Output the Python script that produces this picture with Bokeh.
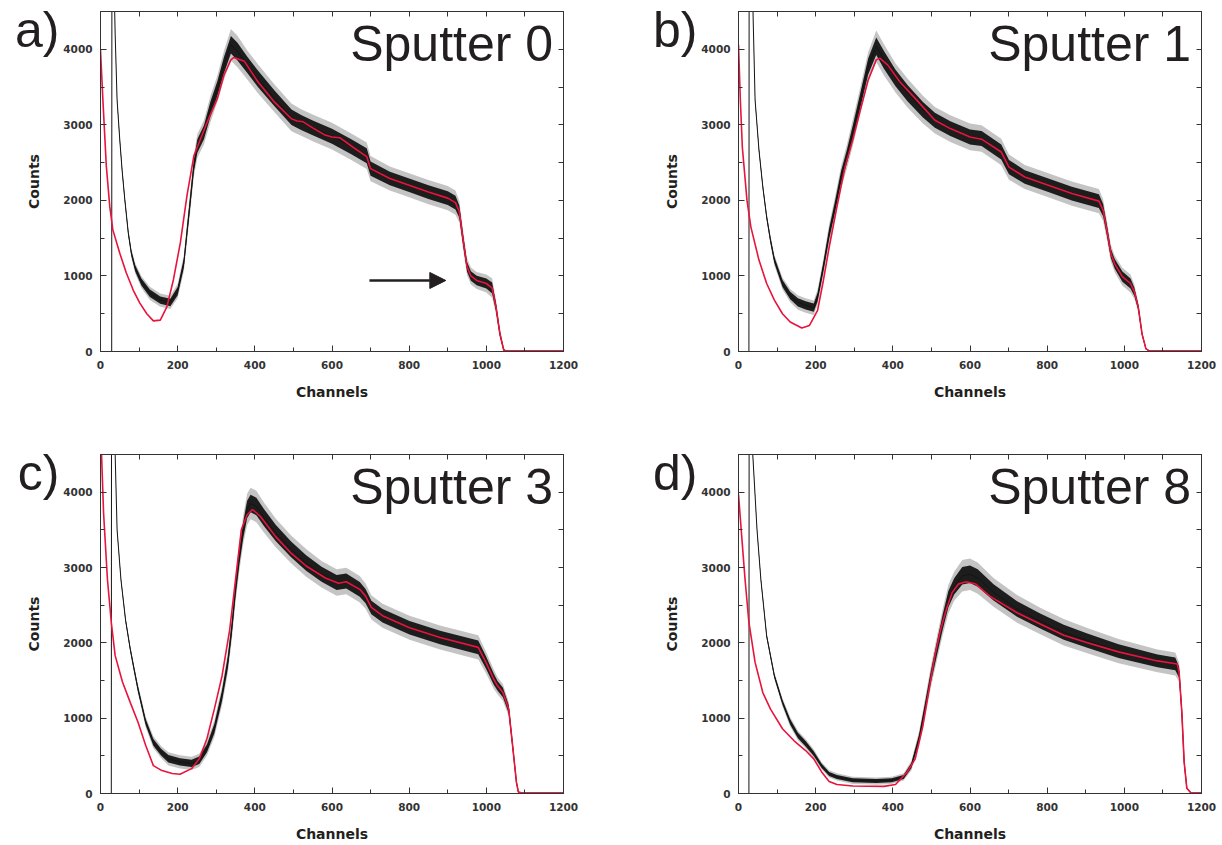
import numpy as np
from bokeh.plotting import figure
from bokeh.models import LinearAxis, Range1d, Label, Arrow, NormalHead, FixedTicker
from bokeh.layouts import row, column
from bokeh.embed import file_html
from bokeh.resources import INLINE

# ---------------- data ----------------
panel_letters = ["a)", "b)", "c)", "d)"]
panel_titles = ["Sputter 0", "Sputter 1", "Sputter 3", "Sputter 8"]
x_label = "Channels"
y_label = "Counts"
x_ticks = [0, 200, 400, 600, 800, 1000, 1200]
x_minor = [100, 300, 500, 700, 900, 1100]
y_ticks = [0, 1000, 2000, 3000, 4000]
y_minor = [500, 1500, 2500, 3500, 4500]

# panel a (Sputter 0)
a_black_ch = [0, 29, 30, 31, 34, 38, 43, 50, 56, 63, 72, 80, 90, 106, 128, 155, 181, 200,
              216, 224, 233, 242, 251, 268, 285, 303, 320, 338, 355, 381, 408, 451, 495,
              520, 550, 600, 650, 690, 700, 750, 800, 850, 900, 920,
              930, 940, 950, 960, 975, 1000, 1015, 1025, 1035, 1045, 1052, 1100, 1200]
a_black_counts = [0, 0, 9000, 9000, 5200, 4200, 3330, 2800, 2400, 2010, 1570, 1300, 1100, 920, 770, 680, 650, 800,
                  1170, 1570, 2010, 2460, 2720, 2900, 3210, 3480, 3790, 4060, 3970, 3790, 3610, 3350, 3100,
                  3030, 2960, 2850, 2710, 2590, 2420, 2290, 2200, 2110, 2030, 1970,
                  1850, 1470, 1120, 1000, 940, 900, 840, 590, 240, 20, 5, 5, 5]
a_black_noise = [0, 0, 0, 0, 10, 15, 20, 25, 30, 30, 35, 40, 45, 50, 55, 55, 55, 60,
                 70, 80, 90, 90, 100, 100, 110, 110, 120, 130, 130, 120, 120, 115, 115,
                 110, 110, 110, 110, 110, 105, 100, 100, 100, 100, 100,
                 90, 80, 70, 70, 70, 75, 80, 60, 40, 15, 5, 5, 5]
a_fit_ch = [0, 6, 15, 24, 32, 50, 67, 85, 102, 120, 137, 155, 172, 189, 207, 224, 242, 259, 277, 303,
            320, 338, 345, 373, 408, 451, 495, 510, 525, 550, 580, 600, 620, 650, 690, 700, 750, 800, 850, 900,
            920, 930, 940, 950, 960, 975, 1000, 1015, 1025, 1035, 1045, 1052, 1200]
a_fit_counts = [3990, 3350, 2460, 1920, 1610, 1300, 1040, 810, 640, 500, 405, 415, 590, 950, 1440, 2060, 2590, 2810, 3040, 3350,
                3660, 3860, 3890, 3840, 3570, 3300, 3080, 3050, 3040, 2960, 2870, 2840, 2830, 2720, 2580, 2420, 2290, 2200, 2110, 2030,
                1970, 1850, 1470, 1120, 1000, 940, 900, 840, 590, 240, 20, 5, 5]
arrow_ch = [697, 895]
arrow_counts = 940

# panel b (Sputter 1)
b_black_ch = [0, 27, 28, 30, 34, 38, 43, 53, 63, 73, 83, 93, 114, 134, 154, 174, 195, 205,
              220, 235, 250, 266, 281, 296, 316, 336, 357, 377, 407, 438, 478, 509, 549, 600, 630, 681, 701, 742, 803, 864, 934,
              945, 955, 965, 975, 995, 1016, 1026, 1036, 1046, 1056, 1066, 1200]
b_black_counts = [0, 0, 9000, 9000, 5500, 4400, 3330, 2670, 2180, 1780, 1470, 1210, 900, 740, 650, 610, 580, 720,
                  1120, 1560, 1910, 2310, 2580, 2890, 3330, 3770, 4040, 3860, 3620, 3420, 3200, 3060, 2950, 2840, 2820, 2640, 2440, 2310, 2200, 2090, 1990,
                  1870, 1600, 1300, 1160, 990, 900, 790, 590, 230, 35, 5, 5]
b_black_noise = [0, 0, 0, 0, 10, 15, 20, 25, 30, 35, 40, 45, 50, 55, 60, 60, 60, 65,
                 70, 80, 85, 90, 100, 110, 110, 120, 130, 130, 120, 120, 115, 110, 110, 110, 110, 110, 105, 100, 100, 100, 100,
                 90, 80, 70, 70, 75, 75, 60, 40, 15, 5, 5, 5]
b_fit_ch = [0, 5, 10, 22, 32, 53, 73, 93, 114, 134, 164, 184, 205, 220, 235, 255, 276, 296, 316, 336,
            357, 367, 387, 418, 458, 509, 549, 600, 630, 681, 701, 742, 803, 864, 934,
            945, 955, 965, 975, 995, 1016, 1026, 1036, 1046, 1056, 1066, 1200]
b_fit_counts = [4060, 3300, 2700, 2000, 1650, 1210, 900, 680, 500, 390, 310, 345, 545, 940, 1380, 1910, 2440, 2800, 3200, 3590,
                3860, 3880, 3790, 3570, 3350, 3060, 2950, 2840, 2810, 2640, 2440, 2310, 2200, 2090, 1990,
                1870, 1600, 1300, 1160, 990, 900, 790, 590, 230, 35, 5, 5]

# panel c (Sputter 3)
c_black_ch = [0, 28, 29, 33, 38, 43, 53, 65, 77, 87, 97, 117, 137, 157, 176, 206, 236, 256, 276, 295,
              315, 330, 340, 350, 360, 370, 380, 389, 404, 424, 454, 494, 533, 573, 612, 637, 672, 687, 702, 731,
              801, 880, 979, 999, 1019, 1029, 1043, 1058, 1068, 1078, 1083, 1093, 1200]
c_black_counts = [0, 0, 9000, 9000, 4500, 3500, 2840, 2300, 1920, 1650, 1390, 950, 680, 550, 460, 420, 400, 440, 600, 860,
                  1300, 1740, 2180, 2710, 3150, 3500, 3770, 3850, 3810, 3660, 3460, 3240, 3060, 2910, 2800, 2820, 2710, 2620, 2470, 2360,
                  2200, 2070, 1940, 1740, 1520, 1430, 1340, 1120, 640, 150, 20, 5, 5]
c_black_noise = [0, 0, 0, 0, 10, 15, 20, 25, 30, 35, 40, 45, 50, 50, 55, 55, 55, 55, 60, 70,
                 80, 90, 100, 110, 120, 120, 130, 130, 130, 125, 120, 115, 115, 110, 110, 110, 110, 105, 100, 100,
                 100, 100, 100, 90, 80, 70, 70, 60, 40, 15, 5, 5, 5]
c_fit_ch = [0, 8, 18, 28, 38, 57, 77, 97, 117, 137, 157, 186, 206, 236, 256, 276, 295, 315, 335, 350,
            365, 380, 394, 414, 454, 494, 533, 583, 617, 637, 672, 687, 702, 731, 801,
            880, 979, 999, 1019, 1029, 1043, 1058, 1068, 1078, 1083, 1093, 1200]
c_fit_counts = [4900, 3720, 2840, 2270, 1830, 1480, 1210, 950, 640, 370, 310, 265, 255, 330, 460, 730, 1120, 1560, 2180, 2840,
                3500, 3700, 3770, 3680, 3410, 3190, 3020, 2860, 2790, 2810, 2710, 2620, 2470, 2360, 2200,
                2070, 1940, 1740, 1520, 1430, 1340, 1120, 640, 150, 20, 5, 5]

# panel d (Sputter 8)
d_black_ch = [0, 27, 28, 32, 37, 48, 58, 73, 93, 114, 134, 154, 174, 195, 215, 235, 255, 296, 357, 397,
              428, 448, 468, 483, 499, 514, 529, 544, 559, 580, 600, 620, 661, 722, 782, 843, 904, 985, 1086, 1132,
              1142, 1149, 1155, 1162, 1173, 1200]
d_black_counts = [0, 0, 9000, 9000, 4500, 3500, 2840, 2090, 1560, 1210, 950, 770, 660, 530, 370, 260, 220, 175, 165, 175,
                  220, 370, 730, 1120, 1560, 1920, 2270, 2580, 2750, 2890, 2910, 2860, 2670, 2450, 2290, 2140, 2030, 1890, 1760, 1720,
                  1610, 1080, 420, 70, 5, 5]
d_black_noise = [0, 0, 0, 0, 10, 15, 20, 25, 30, 35, 40, 40, 40, 35, 30, 30, 30, 30, 30, 30,
                 30, 40, 60, 80, 90, 100, 110, 120, 120, 130, 130, 130, 120, 115, 110, 110, 105, 100, 95, 95,
                 80, 50, 20, 5, 5, 5]
d_fit_ch = [0, 7, 17, 27, 43, 63, 83, 114, 144, 174, 195, 215, 235, 255, 296, 377, 407, 438, 458, 478,
            494, 509, 524, 539, 554, 570, 590, 615, 651, 722, 782, 843, 904, 985, 1086,
            1137, 1142, 1149, 1155, 1162, 1173, 1200]
d_fit_counts = [3970, 3500, 2840, 2270, 1740, 1340, 1120, 860, 700, 570, 460, 290, 160, 120, 100, 95, 120, 290, 460, 900,
                1390, 1830, 2180, 2450, 2670, 2780, 2810, 2780, 2620, 2400, 2250, 2100, 2000, 1880, 1760,
                1720, 1610, 1080, 420, 70, 5, 5]

# ---------------- styling ----------------
AXIS_COLOR = "#333333"
TEXT_COLOR = "#231f20"
TICK_FONT = "DejaVu Sans"
BIG_FONT = "Liberation Sans"
FIT_COLOR = "#e8143c"
DATA_COLOR = "#141414"
LETTER_Y = 4260   # vertical anchor of the panel letter (data units)

for nm, (xs, ys, ns) in {"a": (a_black_ch, a_black_counts, a_black_noise),
                         "b": (b_black_ch, b_black_counts, b_black_noise),
                         "c": (c_black_ch, c_black_counts, c_black_noise),
                         "d": (d_black_ch, d_black_counts, d_black_noise)}.items():
    assert len(xs) == len(ys) == len(ns), nm
for nm, (xs, ys) in {"a": (a_fit_ch, a_fit_counts), "b": (b_fit_ch, b_fit_counts),
                     "c": (c_fit_ch, c_fit_counts), "d": (d_fit_ch, d_fit_counts)}.items():
    assert len(xs) == len(ys), nm


def style_axis(ax, ticks, minor, show_labels):
    ax.axis_line_color = AXIS_COLOR
    ax.axis_line_width = 1
    ax.major_tick_line_color = AXIS_COLOR
    ax.minor_tick_line_color = AXIS_COLOR
    ax.major_tick_out = 0
    ax.minor_tick_out = 0
    if show_labels:
        ax.ticker = FixedTicker(ticks=ticks, minor_ticks=minor)
        ax.major_tick_in = 6
        ax.minor_tick_in = 4
        ax.major_label_text_font = TICK_FONT
        ax.major_label_text_font_style = "bold"
        ax.major_label_text_font_size = "10.5px"
        ax.major_label_text_color = "#333333"
        ax.axis_label_text_font = TICK_FONT
        ax.axis_label_text_font_style = "bold"
        ax.axis_label_text_font_size = "14px"
        ax.axis_label_text_color = TEXT_COLOR
    else:
        # mirror axis: tick marks only, no labels
        ax.ticker = FixedTicker(ticks=[], minor_ticks=sorted(ticks + minor))
        ax.minor_tick_in = 5
        ax.major_tick_in = 0
        ax.major_label_standoff = 0


def make_panel(letter, title, bx, by, bn, fx, fy, w, h, bl, br, bt, bb, arrow=False):
    p = figure(width=w, height=h, x_range=Range1d(0, 1200), y_range=Range1d(0, 4500),
               output_backend="svg", toolbar_location=None,
               min_border_left=bl, min_border_right=br, min_border_top=bt, min_border_bottom=bb,
               background_fill_color="white", border_fill_color="white")
    p.xgrid.visible = False
    p.ygrid.visible = False
    p.outline_line_color = AXIS_COLOR

    style_axis(p.xaxis[0], x_ticks, x_minor, True)
    style_axis(p.yaxis[0], y_ticks, y_minor, True)
    p.xaxis[0].axis_label = x_label
    p.yaxis[0].axis_label = y_label
    p.xaxis[0].major_label_standoff = 9
    p.xaxis[0].axis_label_standoff = 12
    p.yaxis[0].major_label_standoff = 8
    p.yaxis[0].axis_label_standoff = 18

    top = LinearAxis()
    style_axis(top, x_ticks, x_minor, False)
    p.add_layout(top, "above")
    right = LinearAxis()
    style_axis(right, y_ticks, y_minor, False)
    p.add_layout(right, "right")

    # panel letter, drawn as the single label of an outer (invisible) left axis
    letter_axis = LinearAxis(ticker=FixedTicker(ticks=[LETTER_Y], minor_ticks=[]),
                             major_label_overrides={LETTER_Y: letter},
                             axis_line_color=None, major_tick_line_color=None,
                             minor_tick_line_color=None, major_tick_out=0, major_tick_in=0,
                             major_label_standoff=-36,
                             major_label_text_font=BIG_FONT, major_label_text_font_size="50px",
                             major_label_text_font_style="normal", major_label_text_color=TEXT_COLOR)
    p.add_layout(letter_axis, "left")

    bx = np.array(bx, dtype=float)
    by = np.array(by, dtype=float)
    bn = np.array(bn, dtype=float)
    # noise envelope of the measured spectrum
    p.varea(x=bx, y1=by - 1.6 * bn, y2=by + 1.6 * bn, fill_color="#555555", fill_alpha=0.35)
    p.varea(x=bx, y1=by - 0.9 * bn, y2=by + 0.9 * bn, fill_color=DATA_COLOR, fill_alpha=0.95)
    p.line(bx, by, line_color=DATA_COLOR, line_width=1)
    # simulated fit
    p.line(fx, fy, line_color=FIT_COLOR, line_width=1.6)

    p.add_layout(Label(x=1173, y=4065, text=title, text_font=BIG_FONT, text_font_size="50px",
                       text_color=TEXT_COLOR, text_align="right", text_baseline="middle"))
    if arrow:
        p.add_layout(Arrow(end=NormalHead(size=16, fill_color=TEXT_COLOR, line_color=TEXT_COLOR),
                           x_start=arrow_ch[0], y_start=arrow_counts,
                           x_end=arrow_ch[1], y_end=arrow_counts,
                           line_color=TEXT_COLOR, line_width=2.5))
    return p


pa = make_panel(panel_letters[0], panel_titles[0], a_black_ch, a_black_counts, a_black_noise,
                a_fit_ch, a_fit_counts, 610, 443, 100, 47, 11, 92, arrow=True)
pb = make_panel(panel_letters[1], panel_titles[1], b_black_ch, b_black_counts, b_black_noise,
                b_fit_ch, b_fit_counts, 612, 443, 128, 21, 11, 92)
pc = make_panel(panel_letters[2], panel_titles[2], c_black_ch, c_black_counts, c_black_noise,
                c_fit_ch, c_fit_counts, 610, 401, 100, 47, 11, 50)
pd = make_panel(panel_letters[3], panel_titles[3], d_black_ch, d_black_counts, d_black_noise,
                d_fit_ch, d_fit_counts, 612, 401, 128, 21, 11, 50)

layout = column(row(pa, pb), row(pc, pd))
open("out.html", "w").write(file_html(layout, INLINE))
